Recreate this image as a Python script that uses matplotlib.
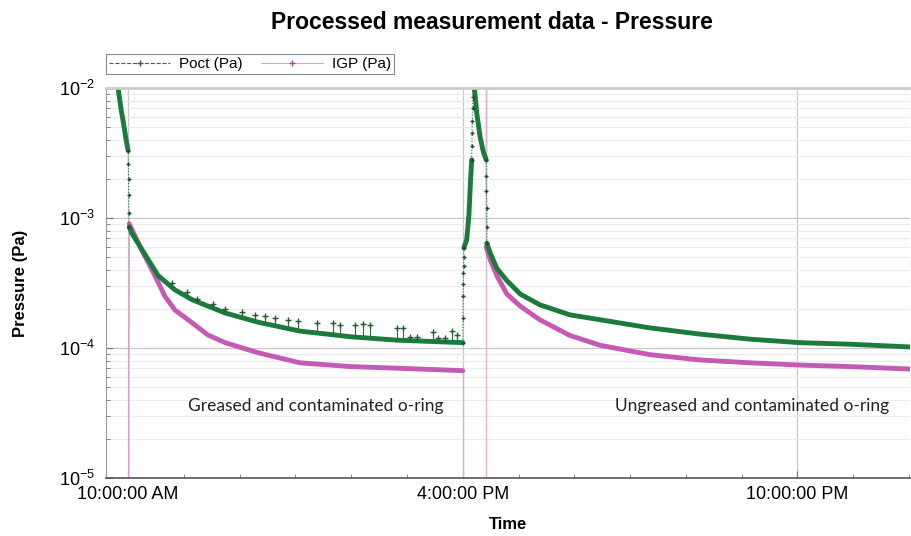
import numpy as np
import matplotlib.pyplot as plt
from matplotlib.lines import Line2D
from matplotlib.ticker import FixedLocator, LogLocator, NullFormatter

# time in hours since midnight, pressure in Pa
# Poct, first pump down (greased o-ring)
poct_t1 = [9.785, 9.82, 9.875, 9.916, 9.964, 10.0]
poct_v1 = [1.3e-2, 1.0e-2, 6.8e-3, 5.4e-3, 4.0e-3, 3.3e-3]
poct_jump1_t = [10.0, 10.005, 10.008, 10.01, 10.013, 10.02]
poct_jump1_v = [3.3e-3, 2.6e-3, 2.0e-3, 1.5e-3, 1.1e-3, 8.5e-4]
poct_t2 = [10.02, 10.07, 10.25, 10.54, 10.84, 11.15, 11.74, 12.33, 13.08, 14.0, 14.82, 16.0]
poct_v2 = [8.5e-4, 7.6e-4, 5.7e-4, 3.6e-4, 2.8e-4, 2.35e-4, 1.86e-4, 1.58e-4, 1.35e-4, 1.22e-4,
           1.15e-4, 1.1e-4]
# scattered high readings
poct_out_t = [10.79, 11.06, 11.24, 11.52, 11.74, 12.04, 12.28, 12.46, 12.63, 12.87, 13.05,
              13.39, 13.67, 13.80, 14.07, 14.21, 14.34, 14.82, 14.93, 15.05, 15.18, 15.47,
              15.56, 15.68, 15.81, 15.90]
poct_out_v = [3.15e-4, 2.7e-4, 2.4e-4, 2.2e-4, 2.0e-4, 1.9e-4, 1.8e-4, 1.75e-4, 1.7e-4, 1.65e-4,
              1.6e-4, 1.56e-4, 1.56e-4, 1.5e-4, 1.5e-4, 1.53e-4, 1.5e-4, 1.43e-4, 1.43e-4,
              1.22e-4, 1.22e-4, 1.33e-4, 1.19e-4, 1.19e-4, 1.36e-4, 1.26e-4]
# venting at 4 PM
poct_jump2_t = [16.0, 16.003, 16.006, 16.009, 16.012, 16.015, 16.018, 16.02]
poct_jump2_v = [1.1e-4, 1.7e-4, 2.5e-4, 3.1e-4, 3.8e-4, 4.3e-4, 5.0e-4, 5.9e-4]
poct_t3 = [16.02, 16.07, 16.11, 16.14, 16.16]
poct_v3 = [5.9e-4, 6.8e-4, 1.06e-3, 2.0e-3, 2.8e-3]
poct_jump3_t = [16.16, 16.163, 16.166, 16.17, 16.175, 16.18, 16.19]
poct_jump3_v = [2.8e-3, 3.6e-3, 4.5e-3, 5.6e-3, 7.0e-3, 8.5e-3, 1.2e-2]
poct_t4 = [16.19, 16.25, 16.31, 16.37, 16.42]
poct_v4 = [1.2e-2, 6.4e-3, 4.2e-3, 3.2e-3, 2.8e-3]
poct_jump4_t = [16.42, 16.422, 16.424, 16.426, 16.428, 16.43]
poct_jump4_v = [2.8e-3, 2.1e-3, 1.6e-3, 1.2e-3, 8.5e-4, 6.4e-4]
# second pump down (ungreased o-ring)
poct_t5 = [16.43, 16.49, 16.61, 16.79, 17.03, 17.38, 17.92, 18.46, 19.35, 20.25, 21.15, 22.04, 22.94, 24.01]
poct_v5 = [6.4e-4, 5.4e-4, 4.1e-4, 3.3e-4, 2.6e-4, 2.15e-4, 1.8e-4, 1.65e-4, 1.43e-4, 1.28e-4,
           1.17e-4, 1.1e-4, 1.07e-4, 1.02e-4]

# IGP
igp_t1 = [10.02, 10.25, 10.39, 10.48, 10.66, 10.84, 11.15, 11.43, 11.74, 12.33, 13.08, 14.0, 14.82, 16.0]
igp_v1 = [9.0e-4, 5.6e-4, 4.3e-4, 3.6e-4, 2.5e-4, 1.96e-4, 1.56e-4, 1.26e-4, 1.1e-4, 9.2e-5,
          7.7e-5, 7.2e-5, 7.0e-5, 6.7e-5]
igp_off_t = [10.0, 10.0, 10.02]
igp_off_v = [1e-7, 1e-7, 9.0e-4]
igp_gap_t = [16.0, 16.0, 16.42, 16.42, 16.42]
igp_gap_v = [6.7e-5, 1e-7, 1e-7, 1e-1, 6.0e-4]
igp_t2 = [16.42, 16.49, 16.61, 16.79, 17.03, 17.38, 17.92, 18.46, 19.35, 20.25, 21.15, 22.04, 22.94, 24.01]
igp_v2 = [6.0e-4, 4.8e-4, 3.6e-4, 2.6e-4, 2.1e-4, 1.65e-4, 1.25e-4, 1.05e-4, 8.9e-5, 8.1e-5,
          7.7e-5, 7.4e-5, 7.2e-5, 6.9e-5]

tick_hours = [10, 16, 22]
tick_labels = ['10:00:00 AM', '4:00:00 PM', '10:00:00 PM']
minor_hours = list(range(10, 25))

green = '#1c7a3c'
pink = '#c45ab4'
sans = ['Liberation Sans', 'DejaVu Sans']

fig = plt.figure(figsize=(9.12, 5.36), dpi=100)
ax = fig.add_axes([0.116, 0.108, 0.882, 0.728])

# IGP
ax.plot(igp_off_t, igp_off_v, color='#d79ccb', lw=1)
ax.plot(igp_gap_t, igp_gap_v, color='#d7b5cf', lw=1)
ax.plot(igp_t1, igp_v1, color=pink, lw=3.5, solid_capstyle='round')
ax.plot(igp_t2, igp_v2, color=pink, lw=3.5, solid_capstyle='round')

# Poct
for t, v in [(poct_t1, poct_v1), (poct_t2, poct_v2), (poct_t3, poct_v3),
             (poct_t4, poct_v4), (poct_t5, poct_v5)]:
    ax.plot(t, v, color=green, lw=3.5, solid_capstyle='round')
for t, v in [(poct_jump1_t, poct_jump1_v), (poct_jump2_t, poct_jump2_v),
             (poct_jump3_t, poct_jump3_v), (poct_jump4_t, poct_jump4_v)]:
    ax.plot(t, v, color=green, lw=0.8, ls=':', marker='+', ms=3.5, mec='#1f4a2c')
# high readings hang off the main curve
base = 10 ** np.interp(poct_out_t, poct_t2, np.log10(poct_v2))
ax.vlines(poct_out_t, base, poct_out_v, color='#2d6a3e', lw=0.8)
ax.plot(poct_out_t, poct_out_v, ls='none', marker='+', ms=4, color='#1f5a30', mew=1)

ax.set_yscale('log')
ax.set_ylim(1e-5, 1e-2)
ax.set_xlim(9.6, 24.02)

ax.xaxis.set_major_locator(FixedLocator(tick_hours))
ax.xaxis.set_minor_locator(FixedLocator(minor_hours))
ax.set_xticklabels(tick_labels, family=sans, fontsize=13)
ax.yaxis.set_minor_locator(LogLocator(base=10, subs=range(2, 10)))
ax.yaxis.set_minor_formatter(NullFormatter())
for lab in ax.get_yticklabels():
    lab.set_fontfamily(sans)
    lab.set_fontsize(13)

ax.tick_params(axis='both', which='both', direction='in', colors='#777777', labelcolor='black')
ax.tick_params(axis='x', which='major', length=5, pad=6)
ax.tick_params(axis='x', which='minor', length=3)
ax.tick_params(axis='y', which='major', length=5, pad=8)
ax.tick_params(axis='y', which='minor', length=3)

ax.grid(which='major', axis='both', color='#c8c8c8', lw=0.9)
ax.grid(which='minor', axis='y', color='#ebebeb', lw=0.8)
ax.set_axisbelow(True)

ax.spines['top'].set_color('#cccccc')
ax.spines['top'].set_linewidth(2)
ax.spines['right'].set_visible(False)
ax.spines['left'].set_color('#999999')
ax.spines['bottom'].set_color('#555555')
ax.spines['bottom'].set_linewidth(1.2)

ax.text(0.261, 0.185, 'Greased and contaminated o-ring', transform=ax.transAxes,
        ha='center', va='center', fontsize=12.5, family=['Lato', 'DejaVu Sans'], color='#222222')
ax.text(0.803, 0.185, 'Ungreased and contaminated o-ring', transform=ax.transAxes,
        ha='center', va='center', fontsize=12.5, family=['Lato', 'DejaVu Sans'], color='#222222')

ax.set_xlabel('Time', fontsize=12, fontweight='bold', family=sans, labelpad=10)
ax.set_ylabel('Pressure (Pa)', fontsize=12, fontweight='bold', family=sans, labelpad=22)
fig.suptitle('Processed measurement data - Pressure', x=0.539, y=0.98, fontsize=16.5,
             fontweight='bold', family=sans)

handles = [Line2D([], [], color='#555555', lw=0.8, ls='--', marker='+', ms=4),
           Line2D([], [], color='#e0a0d0', lw=0.8, marker='+', ms=4, mec='#b0409a')]
leg = fig.legend(handles, ['Poct (Pa)', 'IGP (Pa)'], loc='upper left',
                 bbox_to_anchor=(0.108, 0.913), ncol=2, fancybox=False, framealpha=1,
                 edgecolor='#888888', handlelength=4, columnspacing=1.2, borderpad=0.2,
                 handletextpad=0.6, prop={'family': sans, 'size': 11})
leg.get_frame().set_linewidth(0.8)

fig.savefig('out.png', dpi=100)
